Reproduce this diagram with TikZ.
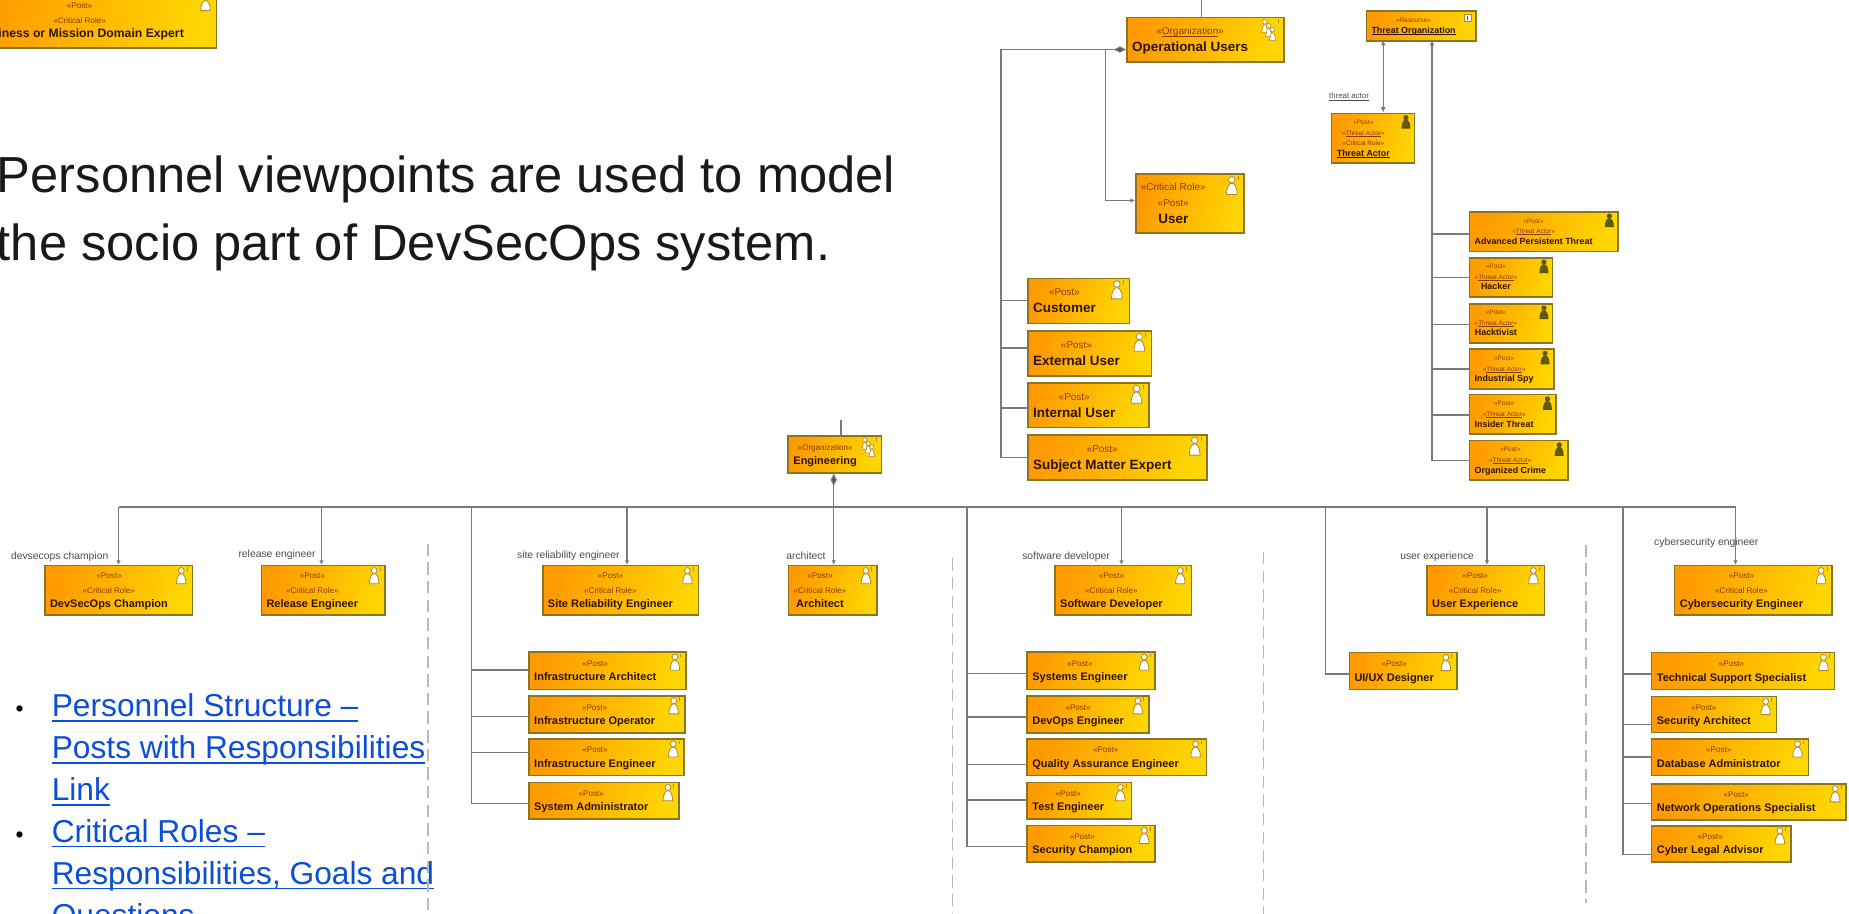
\documentclass[tikz,border=0pt]{standalone}
\usepackage{fontspec}
\setmainfont{Liberation Sans}
\usepackage{tikz}
\usetikzlibrary{arrows.meta}
\usetikzlibrary{positioning}
\definecolor{umlorange}{HTML}{FF9A00}
\definecolor{umlyellow}{HTML}{FFD600}
\definecolor{umledge}{HTML}{8A7426}
\definecolor{stereotext}{HTML}{8A3A00}
\definecolor{nametext}{HTML}{2E1400}
\definecolor{wiregray}{HTML}{7A7A7A}
\definecolor{sepgray}{HTML}{B8B8B8}
\definecolor{linkblue}{HTML}{0B4FD8}
\definecolor{iconedge}{HTML}{B08A30}
\definecolor{threatfig}{HTML}{5F5A12}
\tikzstyle{umlbase}=[draw=umledge,line width=0.75pt,left color=umlorange,right color=umlyellow,shading angle=75,rectangle,inner xsep=2.5pt,inner ysep=0pt,align=left,text=nametext]
\tikzstyle{post}=[umlbase,execute at begin node={\def\stsize{3.9}\def\nmsize{5.3}\fontsize{5.3}{6.9}\selectfont\spaceskip=0pt}]
\tikzstyle{bigpost}=[umlbase,execute at begin node={\def\stsize{4.8}\def\nmsize{6.5}\fontsize{6.5}{8.1}\selectfont\spaceskip=0pt}]
\tikzstyle{threat}=[umlbase,execute at begin node={\def\stsize{3.1}\def\nmsize{4.3}\fontsize{4.3}{5.1}\selectfont\spaceskip=0pt}]
\tikzstyle{expert}=[umlbase,execute at begin node={\def\stsize{3.9}\def\nmsize{5.9}\fontsize{5.9}{7.1}\selectfont\spaceskip=0pt}]
\tikzstyle{posticon}=[scale=1]
\tikzstyle{bigposticon}=[scale=1.12]
\tikzstyle{threaticon}=[scale=0.85]
\tikzstyle{experticon}=[scale=1]
\tikzstyle{wire}=[draw=wiregray,line width=0.7pt]
\tikzstyle{tip}=[-{Latex[length=2.2pt,width=2.2pt]}]
\tikzstyle{compose}=[{Diamond[length=6pt,width=3pt,fill=black!70]}-]
\tikzstyle{composetip}=[{Diamond[length=6pt,width=3pt,fill=black!70]}-{Latex[length=2.2pt,width=2.2pt]}]
\tikzstyle{sepline}=[draw=sepgray,line width=0.8pt,dash pattern=on 6pt off 3pt]
\tikzstyle{rolelabel}=[inner sep=0pt,text=black!70,font=\fontsize{5}{6}\selectfont]
\tikzstyle{bodytext}=[inner sep=0pt,anchor=west,align=left,text=black!90,font=\fontsize{24.45}{33}\selectfont]
\tikzstyle{linktext}=[inner sep=0pt,anchor=north west,align=left,text=linkblue,font=\fontsize{15.3}{20.25}\selectfont]
\newcommand{\ulined}[1]{\setbox0\hbox{#1}\rlap{\rule[-0.16em]{\wd0}{0.055em}}\box0}
\newcommand{\stereo}[1]{{\color{stereotext}\fontsize{\stsize}{\stsize}\selectfont «#1»}}
\newcommand{\ustereo}[1]{{\color{stereotext}\fontsize{\stsize}{\stsize}\selectfont «\ulined{#1}»}}
\newcommand{\bname}[1]{{\bfseries\fontsize{\nmsize}{\nmsize}\selectfont #1}}
\newcommand{\itemdot}{\llap{\makebox[17.5pt][l]{\color{black}\fontsize{11}{11}\selectfont\textbullet}}}
\tikzset{
  person/.pic={
    \draw[fill=white,draw=iconedge,line width=0.4pt] (-10,4.8) circle (2.5);
    \draw[fill=white,draw=iconedge,line width=0.4pt] (-14,16) .. controls (-14,10) and (-12,7.5) .. (-10,7.5) .. controls (-8,7.5) and (-6,10) .. (-6,16) -- cycle;
    \draw[iconedge,line width=0.4pt] (-5,2) -- (-5,5);
  },
  threatman/.pic={
    \fill[threatfig] (-9.5,5) circle (2.6);
    \fill[threatfig] (-14,16) .. controls (-14,10) and (-12,7) .. (-9.5,7) .. controls (-7,7) and (-5,10) .. (-5,16) -- cycle;
  },
  orgman/.pic={
    \foreach \d in {0,3,6}{
      \draw[fill=white,draw=iconedge,line width=0.3pt] (-15+\d,4+\d) circle (1.7);
      \draw[fill=white,draw=iconedge,line width=0.3pt] (-17.5+\d,12+\d) -- (-16+\d,6.5+\d) -- (-14+\d,6.5+\d) -- (-12.5+\d,12+\d) -- cycle;
    }
    \draw[iconedge,line width=0.4pt] (-5,2) -- (-5,5);
  },
  threatorg/.pic={
    \draw[fill=white,draw=iconedge,line width=0.4pt] (-12.5,4.5) rectangle (-5.5,11);
    \fill[threatfig] (-9.6,5.5) rectangle (-8.4,10);
  }
}
\newcommand{\umlbox}[8][post]{%
  \pgfmathsetlengthmacro{\boxw}{(#5-#3)*0.02cm}
  \pgfmathsetlengthmacro{\boxh}{(#6-#4)*0.02cm}
  \pgfmathsetlengthmacro{\boxt}{\boxw-5pt}
  \node[#1,anchor=north west,text width=\boxt,minimum height=\boxh] (#2) at (#3,#4) {\begin{tabular}{@{}c@{}}#8\end{tabular}};
  \pic[#1icon] at (#2.north east) {#7};
}
\begin{document}
\begin{tikzpicture}[x=0.02cm,y=-0.02cm]
\path[use as bounding box,clip] (0,0) rectangle (1568,775);

% top left and the texts
\umlbox[expert]{expert}{-26}{-7}{183}{40}{person}{\stereo{Post}\\\stereo{Critical Role}\\\bname{Business or Mission Domain Expert}}
\node [bodytext] (intro) at (-3,181) {Personnel viewpoints are used to model\\the socio part of DevSecOps system.};
\node [linktext] (linkone) at (43.6,588) {\itemdot\ulined{Personnel Structure –}\\\ulined{Posts with Responsibilities}\\\ulined{Link}};
\node [linktext] (linktwo) at (43.6,694.5) {\itemdot\ulined{Critical Roles –}\\\ulined{Responsibilities, Goals and}\\\ulined{Questions}};

% operational users
\umlbox[bigpost]{opusers}{955}{14}{1088}{52}{orgman}{\ustereo{Organization}\\\bname{Operational Users}}
\umlbox[bigpost]{user}{962.5}{147}{1054.5}{197}{person}{\stereo{Critical Role}\\\stereo{Post}\\\bname{User}}
\umlbox[bigpost]{customer}{871}{235.5}{957}{273.6}{person}{\stereo{Post}\\\bname{Customer}}
\umlbox[bigpost]{external}{871}{280}{976}{318}{person}{\stereo{Post}\\\bname{External User}}
\umlbox[bigpost]{internal}{871}{324}{973.6}{362}{person}{\stereo{Post}\\\bname{Internal User}}
\umlbox[bigpost]{matter}{871}{368}{1023}{406.5}{person}{\stereo{Post}\\\bname{Subject Matter Expert}}
\coordinate (optop) at (1019,0);
\coordinate (opbus) at (849,42);
\coordinate (userbus) at (937.6,42);
\draw[wire] (optop) -- (opusers.north -| optop);
\draw[wire,compose] (opusers.west |- opbus) -- (opbus) -- (opbus |- 0,388) -- (matter.west |- 0,388);
\draw[wire] (opbus |- 0,255) -- (customer.west |- 0,255);
\draw[wire] (opbus |- 0,295) -- (external.west |- 0,295);
\draw[wire] (opbus |- 0,346) -- (internal.west |- 0,346);
\draw[wire,tip] (userbus) -- (userbus |- 0,170) -- (user.west |- 0,170);

% threat
\umlbox[threat]{threatorg}{1158}{8.5}{1251}{34}{threatorg}{\stereo{Resource}\\\bname{\ulined{Threat Organization}}}
\umlbox[threat]{threatactor}{1128.6}{95.5}{1199}{137.7}{threatman}{\stereo{Post}\\\ustereo{Threat Actor}\\\stereo{Critical Role}\\\bname{\ulined{Threat Actor}}}
\umlbox[threat]{persistent}{1245.5}{179}{1371.5}{212.6}{threatman}{\stereo{Post}\\\ustereo{Threat Actor}\\\bname{Advanced Persistent Threat}}
\umlbox[threat]{hacker}{1245.5}{218}{1316}{251}{threatman}{\stereo{Post}\\\ustereo{Threat Actor}\\\bname{Hacker}}
\umlbox[threat]{hacktivist}{1245.5}{257}{1316}{290}{threatman}{\stereo{Post}\\\ustereo{Threat Actor}\\\bname{Hacktivist}}
\umlbox[threat]{spy}{1245.5}{295.4}{1317}{329}{threatman}{\stereo{Post}\\\ustereo{Threat Actor}\\\bname{Industrial Spy}}
\umlbox[threat]{insider}{1245.5}{334}{1319}{367.5}{threatman}{\stereo{Post}\\\ustereo{Threat Actor}\\\bname{Insider Threat}}
\umlbox[threat]{crime}{1245.5}{373}{1329}{406.5}{threatman}{\stereo{Post}\\\ustereo{Threat Actor}\\\bname{Organized Crime}}
\coordinate (actorline) at (1173,34);
\coordinate (threatbus) at (1214.4,34);
\draw[wire,{Latex[length=2.6pt,width=2.4pt]}-{Latex[length=2.6pt,width=2.4pt]}] (actorline) -- (actorline |- threatactor.north);
\node [rolelabel,font=\fontsize{3.8}{5}\selectfont] (actorlabel) at (1144,82) {\ulined{threat actor}};
\draw[wire,{Latex[length=2.6pt,width=2.4pt]}-] (threatbus) -- (threatbus |- 0,390.7) -- (crime.west |- 0,390.7);
\draw[wire] (threatbus |- 0,198.5) -- (persistent.west |- 0,198.5);
\draw[wire] (threatbus |- 0,235.5) -- (hacker.west |- 0,235.5);
\draw[wire] (threatbus |- 0,275) -- (hacktivist.west |- 0,275);
\draw[wire] (threatbus |- 0,313) -- (spy.west |- 0,313);
\draw[wire] (threatbus |- 0,352) -- (insider.west |- 0,352);

% engineering
\umlbox[post]{engineering}{667.8}{369}{747}{400.3}{orgman}{\stereo{Organization}\\\bname{Engineering}}
\umlbox[post]{champion}{37.4}{479}{162.4}{520.7}{person}{\stereo{Post}\\\stereo{Critical Role}\\\bname{DevSecOps Champion}}
\umlbox[post]{release}{221}{479}{326}{520.7}{person}{\stereo{Post}\\\stereo{Critical Role}\\\bname{Release Engineer}}
\umlbox[post]{reliability}{459.6}{479}{591.6}{520.7}{person}{\stereo{Post}\\\stereo{Critical Role}\\\bname{Site Reliability Engineer}}
\umlbox[post]{architect}{668}{479}{743}{520.7}{person}{\stereo{Post}\\\stereo{Critical Role}\\\bname{Architect}}
\umlbox[post]{developer}{894}{479}{1009.6}{520.7}{person}{\stereo{Post}\\\stereo{Critical Role}\\\bname{Software Developer}}
\umlbox[post]{experience}{1209.5}{479}{1309}{520.7}{person}{\stereo{Post}\\\stereo{Critical Role}\\\bname{User Experience}}
\umlbox[post]{cyber}{1419.5}{479}{1553}{520.7}{person}{\stereo{Post}\\\stereo{Critical Role}\\\bname{Cybersecurity Engineer}}

\umlbox[post]{infarch}{448}{552.4}{581}{584}{person}{\stereo{Post}\\\bname{Infrastructure Architect}}
\umlbox[post]{infop}{448}{589.4}{580}{621}{person}{\stereo{Post}\\\bname{Infrastructure Operator}}
\umlbox[post]{infeng}{448}{626}{579.6}{657}{person}{\stereo{Post}\\\bname{Infrastructure Engineer}}
\umlbox[post]{sysadmin}{448}{663}{575}{694}{person}{\stereo{Post}\\\bname{System Administrator}}

\umlbox[post]{syseng}{870.4}{552.4}{979}{584}{person}{\stereo{Post}\\\bname{Systems Engineer}}
\umlbox[post]{devops}{870.4}{589.4}{973.6}{621}{person}{\stereo{Post}\\\bname{DevOps Engineer}}
\umlbox[post]{quality}{870.4}{626}{1022.6}{657}{person}{\stereo{Post}\\\bname{Quality Assurance Engineer}}
\umlbox[post]{testeng}{870.4}{663}{958.7}{694}{person}{\stereo{Post}\\\bname{Test Engineer}}
\umlbox[post]{secchamp}{870.4}{699.4}{979}{730.5}{person}{\stereo{Post}\\\bname{Security Champion}}

\umlbox[post]{uxdesign}{1143.6}{552.7}{1234.8}{584}{person}{\stereo{Post}\\\bname{UI/UX Designer}}

\umlbox[post]{support}{1400}{552.7}{1555}{584}{person}{\stereo{Post}\\\bname{Technical Support Specialist}}
\umlbox[post]{secarch}{1400}{590}{1506}{620.6}{person}{\stereo{Post}\\\bname{Security Architect}}
\umlbox[post]{database}{1400}{626}{1533}{657}{person}{\stereo{Post}\\\bname{Database Administrator}}
\umlbox[post]{network}{1400}{664}{1565}{694.6}{person}{\stereo{Post}\\\bname{Network Operations Specialist}}
\umlbox[post]{legal}{1400}{699.7}{1518}{730.2}{person}{\stereo{Post}\\\bname{Cyber Legal Advisor}}

\node [rolelabel] (championlabel) at (50.6,472) {devsecops champion};
\node [rolelabel] (releaselabel) at (235,470.4) {release engineer};
\node [rolelabel] (reliabilitylabel) at (482,471) {site reliability engineer};
\node [rolelabel] (architectlabel) at (683.4,471) {architect};
\node [rolelabel] (developerlabel) at (904,472) {software developer};
\node [rolelabel] (experiencelabel) at (1218.7,472) {user experience};
\node [rolelabel] (cyberlabel) at (1447,460) {cybersecurity engineer};

\coordinate (engtop) at (713.3,356);
\coordinate (busl) at (100.5,430);
\coordinate (busr) at (1471.8,430);
\draw[wire] (engtop) -- (engtop |- engineering.north);
\draw[wire,tip] (busl) -- (busl |- champion.north);
\draw[wire,tip] (busl) -- (busr) -- (busr |- cyber.north);
\draw[wire,tip] (272.6,0 |- busl) -- (272.6,0 |- release.north);
\draw[wire,tip] (531.7,0 |- busl) -- (531.7,0 |- reliability.north);
\draw[wire,composetip] (707,0 |- engineering.south) -- (707,0 |- architect.north);
\draw[wire,tip] (951,0 |- busl) -- (951,0 |- developer.north);
\draw[wire,tip] (1261,0 |- busl) -- (1261,0 |- experience.north);

\draw[wire] (400,0 |- busl) -- (400,681.3) -- (sysadmin.west |- 0,681.3);
\draw[wire] (400,568) -- (infarch.west |- 0,568);
\draw[wire] (400,607.5) -- (infop.west |- 0,607.5);
\draw[wire] (400,638) -- (infeng.west |- 0,638);

\draw[wire] (820,0 |- busl) -- (820,718) -- (secchamp.west |- 0,718);
\draw[wire] (820,571.3) -- (syseng.west |- 0,571.3);
\draw[wire] (820,608) -- (devops.west |- 0,608);
\draw[wire] (820,648.2) -- (quality.west |- 0,648.2);
\draw[wire] (820,678.5) -- (testeng.west |- 0,678.5);

\draw[wire] (1124,0 |- busl) -- (1124,571.4) -- (uxdesign.west |- 0,571.4);

\draw[wire] (1376.4,0 |- busl) -- (1376.4,724.6) -- (legal.west |- 0,724.6);
\draw[wire] (1376.4,571.4) -- (support.west |- 0,571.4);
\draw[wire] (1376.4,614.3) -- (secarch.west |- 0,614.3);
\draw[wire] (1376.4,641.8) -- (database.west |- 0,641.8);
\draw[wire] (1376.4,681.3) -- (network.west |- 0,681.3);

% separators
\coordinate (sepa) at (363,461);
\coordinate (sepb) at (807.7,473.5);
\coordinate (sepc) at (1071.6,468);
\coordinate (sepd) at (1344.7,462);
\draw[sepline] (sepa) -- (363,775);
\draw[sepline] (sepb) -- (807.7,775);
\draw[sepline] (sepc) -- (1071.6,775);
\draw[sepline] (sepd) -- (1344.7,766);
\end{tikzpicture}
\end{document}
